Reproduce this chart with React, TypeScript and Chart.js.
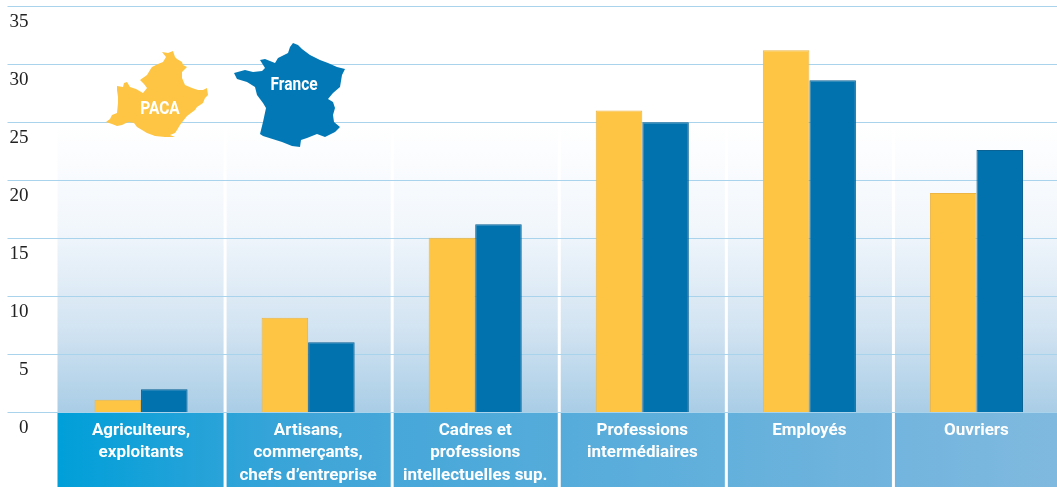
import React, { useEffect, useRef } from "react";
import { Chart, registerables } from "chart.js";

Chart.register(...registerables);

const categories: string[][] = [
  ["Agriculteurs,", "exploitants"],
  ["Artisans,", "commerçants,", "chefs d’entreprise"],
  ["Cadres et", "professions", "intellectuelles sup."],
  ["Professions", "intermédiaires"],
  ["Employés"],
  ["Ouvriers"],
];
const pacaValues = [1.1, 8.15, 15.05, 26.0, 31.2, 18.9];
const franceValues = [2.0, 6.05, 16.2, 25.0, 28.6, 22.6];
const seriesNames = ["PACA", "France"];
const yTicks = { min: 0, max: 35, step: 5 };

// Outlines of the two territories used as legend keys, in canvas pixels.
const pacaOutline = [
  [162, 52], [168, 53], [173, 51], [175, 57], [177, 59], [182, 62], [183, 65], [187, 67], [182, 72], [182, 78],
  [185, 85], [192, 88], [198, 90], [203, 90], [207, 88], [208, 95], [205, 98], [203, 103], [197, 107], [195, 110],
  [187, 116], [183, 121], [180, 125], [177, 130], [175, 133], [170, 135], [175, 137], [165, 137], [155, 136], [147, 133],
  [137, 127], [134, 123], [128, 122], [122, 125], [117, 126], [112, 124], [106, 122], [110, 119], [112, 115], [117, 113],
  [118, 103], [118, 97], [117, 90], [117, 86], [123, 87], [124, 83], [127, 82], [130, 87], [136, 89], [143, 93],
  [147, 88], [144, 84], [140, 80], [147, 75], [150, 70], [152, 67], [158, 64], [163, 62], [166, 57],
];
const franceOutline = [
  [293, 43], [298, 45], [302, 49], [310, 55], [320, 60], [328, 63], [337, 67], [345, 69],
  [342, 75], [340, 87], [333, 93], [328, 99], [333, 102], [335, 108], [333, 115], [334, 122],
  [340, 127], [335, 132], [325, 137], [317, 134], [307, 138], [301, 140], [300, 147], [292, 146],
  [282, 142], [263, 136], [260, 134], [263, 122], [266, 108], [263, 103], [257, 95], [255, 87],
  [247, 82], [237, 79], [234, 73], [245, 70], [253, 72], [262, 71], [265, 68], [260, 60],
  [265, 59], [275, 63], [278, 58], [288, 53], [290, 47],
];

function fillOutline(ctx: CanvasRenderingContext2D, pts: number[][], color: string) {
  ctx.beginPath();
  pts.forEach(([x, y], i) => (i ? ctx.lineTo(x, y) : ctx.moveTo(x, y)));
  ctx.closePath();
  ctx.fillStyle = color;
  ctx.fill();
}

// Condensed white caption: the text is squeezed horizontally around its centre.
function caption(ctx: CanvasRenderingContext2D, text: string, x: number, y: number) {
  ctx.save();
  ctx.translate(x, y);
  ctx.scale(0.86, 1);
  ctx.fillText(text, 0, 0);
  ctx.restore();
}

// Tinted wash behind the categories, label band under the baseline, white separators.
const panelsPlugin = {
  id: "panels",
  beforeDraw(chart: any) {
    const { ctx, chartArea, scales } = chart;
    const xs = scales.x;
    const step = xs.getPixelForTick(1) - xs.getPixelForTick(0);
    const band = ctx.createLinearGradient(chartArea.left, 0, 1057, 0);
    band.addColorStop(0, "#009fd9");
    band.addColorStop(0.25, "#3fa5d8");
    band.addColorStop(1, "#80b9df");
    const wash = ctx.createLinearGradient(0, 125, 0, chartArea.bottom);
    wash.addColorStop(0, "#ffffff");
    wash.addColorStop(0.35, "#f2f7fc");
    wash.addColorStop(0.7, "#d3e4f2");
    wash.addColorStop(1, "#a9cde6");
    ctx.save();
    ctx.fillStyle = wash;
    ctx.fillRect(chartArea.left, 125, chartArea.width, chartArea.bottom - 125);
    ctx.fillStyle = band;
    ctx.fillRect(chartArea.left, chartArea.bottom, chartArea.width, chart.height - chartArea.bottom);
    ctx.fillStyle = "#ffffff";
    categories.slice(0, -1).forEach((_, i) => {
      ctx.fillRect(xs.getPixelForTick(i) + step / 2 - 1, 125, 3, chart.height - 125);
    });
    ctx.restore();
  },
};

// Map-shaped legend keys with the series names on top.
const mapKeysPlugin = {
  id: "mapKeys",
  afterDatasetsDraw(chart: any) {
    const { ctx } = chart;
    ctx.save();
    fillOutline(ctx, pacaOutline, "#fdc543");
    fillOutline(ctx, franceOutline, "#0279b6");
    ctx.fillStyle = "#ffffff";
    ctx.font = 'bold 18px "Roboto", sans-serif';
    ctx.textAlign = "center";
    ctx.textBaseline = "middle";
    caption(ctx, seriesNames[0], 160, 109);
    caption(ctx, seriesNames[1], 294, 85);
    ctx.restore();
  },
};

export default function App() {
  const ref = useRef<HTMLCanvasElement>(null);

  useEffect(() => {
    const chart = new Chart(ref.current!, {
      type: "bar",
      data: {
        labels: categories,
        datasets: [
          {
            label: seriesNames[0],
            data: pacaValues,
            backgroundColor: "#fdc543",
            borderColor: "#ecb544",
            borderWidth: 1,
          },
          {
            label: seriesNames[1],
            data: franceValues,
            backgroundColor: "#0272ae",
            borderColor: "#0a6194",
            borderWidth: 1,
          },
        ],
      },
      options: {
        responsive: false,
        animation: false,
        layout: { padding: { top: 6, left: 0, right: 0, bottom: 0 } },
        datasets: { bar: { categoryPercentage: 0.557, barPercentage: 1 } },
        plugins: { legend: { display: false }, tooltip: { enabled: false } },
        scales: {
          x: {
            grid: { display: false },
            border: { display: false },
            afterFit: (s: any) => {
              s.height = 74.5;
            },
            ticks: {
              color: "#ffffff",
              padding: -1,
              maxRotation: 0,
              autoSkip: false,
              font: {
                family: '"Roboto", sans-serif',
                size: 17,
                weight: "bold",
                lineHeight: 1.32,
              },
            },
          },
          y: {
            min: yTicks.min,
            max: yTicks.max,
            afterFit: (s: any) => {
              s.width = 57.5;
            },
            border: { display: false },
            grid: {
              color: "#a9d3ec",
              tickColor: "#a9d3ec",
              lineWidth: 1,
              tickLength: 50,
              drawTicks: true,
            },
            ticks: {
              stepSize: yTicks.step,
              color: "#222222",
              padding: -21,
              labelOffset: 16,
              font: { family: '"Liberation Serif", serif', size: 19 },
            },
          },
        },
      },
      plugins: [panelsPlugin, mapKeysPlugin],
    } as any);
    return () => chart.destroy();
  }, []);

  return (
    <div style={{ position: "fixed", left: 0, top: 0, width: 1057, height: 487, overflow: "hidden", background: "#fff" }}>
      <canvas ref={ref} width={1060} height={487} style={{ display: "block" }} />
    </div>
  );
}
